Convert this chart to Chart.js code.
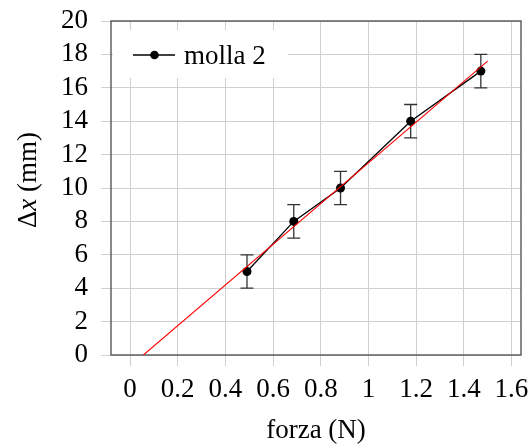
<!DOCTYPE html>
<html>
<head>
<meta charset="utf-8">
<script src="https://cdn.jsdelivr.net/npm/chart.js@4"></script>
<style>
  html, body { margin: 0; padding: 0; background: #fff; }
  canvas { display: block; }
</style>
</head>
<body>
<canvas id="chart" width="528" height="445"></canvas>
<script>
// molla 2: forza applicata (N) e allungamento misurato (mm)
const forza = [0.4905, 0.6867, 0.8829, 1.1772, 1.4715];
const allungamento = [5, 8, 10, 14, 17];
const errore = [1, 1, 1, 1, 1];

// retta di regressione, estremi
const fitX = [0.056, 1.5];
const fitY = [0, 17.6];

const xTicks = [0, 0.2, 0.4, 0.6, 0.8, 1, 1.2, 1.4, 1.6];
const yTicks = [0, 2, 4, 6, 8, 10, 12, 14, 16, 18, 20];

const FONT = "'Liberation Serif', serif";
const FONT_SIZE = 27;
const GRID = '#cfcfcf';

Chart.defaults.font.family = FONT;
Chart.defaults.font.size = FONT_SIZE;
Chart.defaults.color = '#000';

// niente padding extra per le etichette: l'area del grafico resta fissa
function fixPadding(s) {
  s.paddingTop = 0;
  s.paddingBottom = 0;
  s.paddingLeft = 0;
  s.paddingRight = 0;
}

// cornice del grafico
const framePlugin = {
  id: 'frame',
  beforeDatasetsDraw(chart) {
    const { ctx, chartArea: a } = chart;
    ctx.save();
    ctx.strokeStyle = '#4a4a4a';
    ctx.lineWidth = 1.3;
    ctx.strokeRect(a.left, a.top, a.right - a.left, a.bottom - a.top);
    ctx.restore();
  }
};

// barre d'errore verticali
const errorBarPlugin = {
  id: 'errorBars',
  beforeDatasetsDraw(chart) {
    const { ctx, scales: { x, y } } = chart;
    ctx.save();
    ctx.strokeStyle = '#333';
    ctx.lineWidth = 1.3;
    forza.forEach((f, i) => {
      const px = x.getPixelForValue(f);
      const top = y.getPixelForValue(allungamento[i] + errore[i]);
      const bot = y.getPixelForValue(allungamento[i] - errore[i]);
      ctx.beginPath();
      ctx.moveTo(px, top); ctx.lineTo(px, bot);
      ctx.moveTo(px - 6.5, top); ctx.lineTo(px + 6.5, top);
      ctx.moveTo(px - 6.5, bot); ctx.lineTo(px + 6.5, bot);
      ctx.stroke();
    });
    ctx.restore();
  }
};

// legenda dentro l'area del grafico
const legendPlugin = {
  id: 'innerLegend',
  beforeDatasetsDraw(chart) {
    const { ctx, chartArea: a } = chart;
    const ds = chart.data.datasets[1];
    const x0 = a.left, y0 = a.top;
    ctx.save();
    ctx.fillStyle = '#fff';
    ctx.fillRect(x0 + 2, y0 + 9, 175, 48);
    const ly = y0 + 34;
    ctx.strokeStyle = '#000';
    ctx.lineWidth = 1.3;
    ctx.beginPath();
    ctx.moveTo(x0 + 22, ly); ctx.lineTo(x0 + 64, ly);
    ctx.stroke();
    ctx.fillStyle = '#000';
    ctx.beginPath();
    ctx.arc(x0 + 43.5, ly, 4.3, 0, Math.PI * 2);
    ctx.fill();
    ctx.font = FONT_SIZE + 'px ' + FONT;
    ctx.textBaseline = 'alphabetic';
    ctx.fillText(ds.label, x0 + 73, y0 + 43);
    ctx.restore();
  }
};

// titoli degli assi (con la x in corsivo)
const axisTitlePlugin = {
  id: 'axisTitles',
  afterDraw(chart) {
    const { ctx, chartArea: a } = chart;
    ctx.save();
    ctx.fillStyle = '#000';
    ctx.textBaseline = 'alphabetic';
    const normal = FONT_SIZE + 'px ' + FONT;
    const italic = 'italic ' + FONT_SIZE + 'px ' + FONT;

    ctx.font = normal;
    ctx.textAlign = 'center';
    ctx.fillText('forza (N)', (a.left + a.right) / 2, a.bottom + 83);

    const parts = [['Δ', normal], ['x', italic], [' (mm)', normal]];
    let total = 0;
    parts.forEach(p => { ctx.font = p[1]; total += ctx.measureText(p[0]).width; });
    ctx.translate(36, (a.top + a.bottom) / 2 - 8);
    ctx.rotate(-Math.PI / 2);
    ctx.textAlign = 'left';
    let cx = -total / 2;
    parts.forEach(p => {
      ctx.font = p[1];
      ctx.fillText(p[0], cx, 0);
      cx += ctx.measureText(p[0]).width;
    });
    ctx.restore();
  }
};

new Chart(document.getElementById('chart'), {
  type: 'scatter',
  data: {
    datasets: [
      {
        label: 'fit',
        data: fitX.map((v, i) => ({ x: v, y: fitY[i] })),
        showLine: true,
        borderColor: '#ff0000',
        borderWidth: 1.1,
        pointRadius: 0,
        fill: false
      },
      {
        label: 'molla 2',
        data: forza.map((v, i) => ({ x: v, y: allungamento[i] })),
        showLine: true,
        borderColor: '#000',
        borderWidth: 1.3,
        backgroundColor: '#000',
        pointBackgroundColor: '#000',
        pointBorderWidth: 0,
        pointRadius: 4.5,
        fill: false
      }
    ]
  },
  options: {
    responsive: false,
    animation: false,
    layout: { padding: { top: 21, right: 7, left: 0, bottom: 0 } },
    plugins: {
      legend: { display: false },
      tooltip: { enabled: false }
    },
    scales: {
      x: {
        type: 'linear',
        min: -0.08,
        max: 1.64,
        afterBuildTicks: s => { s.ticks = xTicks.map(v => ({ value: v })); },
        afterFit: s => { s.height = 90; fixPadding(s); },
        grid: { color: GRID, lineWidth: 1, tickLength: 11, drawTicks: true },
        border: { display: false },
        ticks: { padding: 8, maxRotation: 0, autoSkip: false, callback: v => String(v) },
        title: { display: false }
      },
      y: {
        type: 'linear',
        min: 0,
        max: 20,
        afterBuildTicks: s => { s.ticks = yTicks.map(v => ({ value: v })); },
        afterFit: s => { s.width = 111; fixPadding(s); },
        grid: { color: GRID, lineWidth: 1, tickLength: 10, drawTicks: true },
        border: { display: false },
        ticks: { padding: 13, autoSkip: false, callback: v => String(v) },
        title: { display: false }
      }
    }
  },
  plugins: [framePlugin, errorBarPlugin, legendPlugin, axisTitlePlugin]
});
</script>
</body>
</html>
